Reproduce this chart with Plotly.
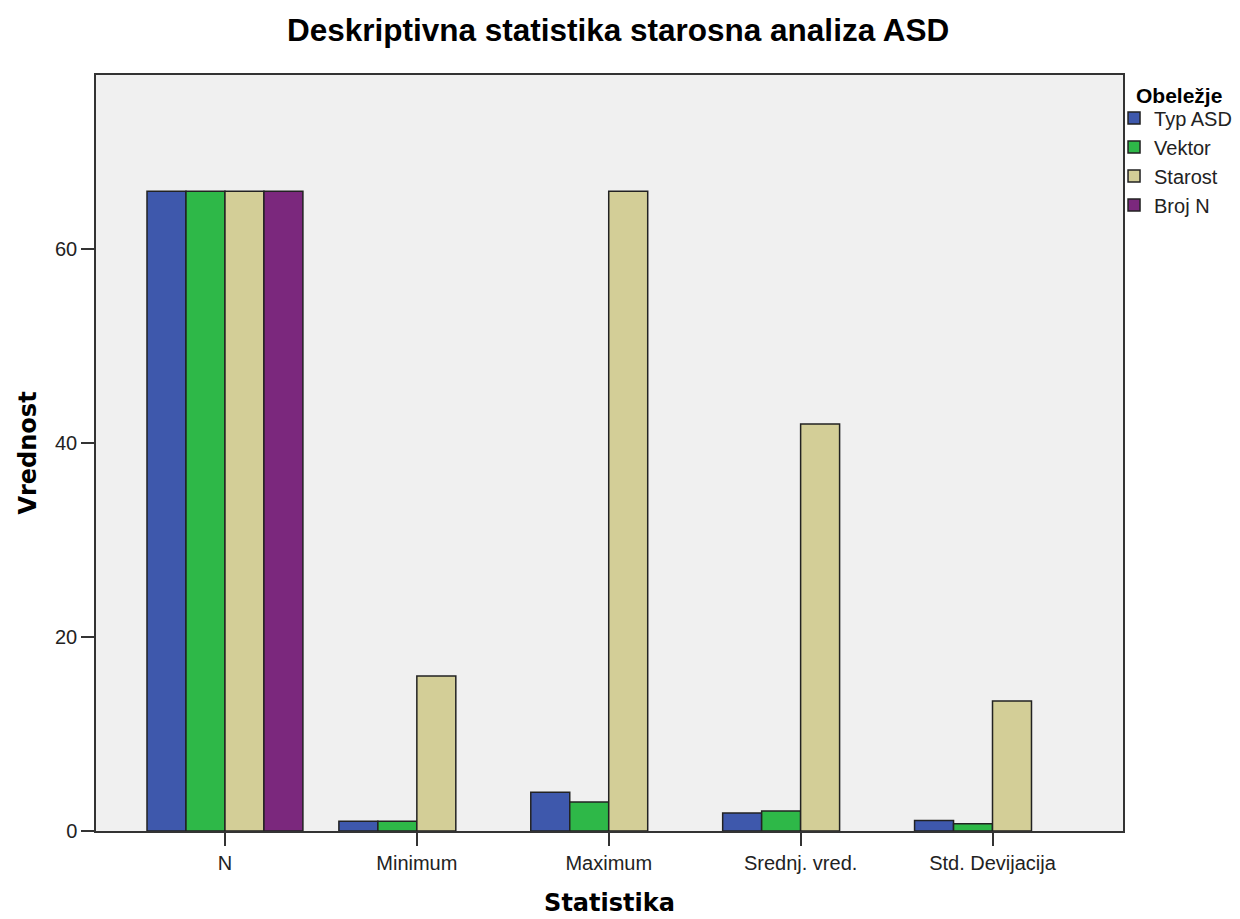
import plotly.graph_objects as go

categories = ["N", "Minimum", "Maximum", "Srednj. vred.", "Std. Devijacija"]
series_names = ["Typ ASD", "Vektor", "Starost", "Broj N"]
typ_asd = [66, 1, 4, 1.85, 1.08]
vektor = [66, 1, 3, 2.07, 0.75]
starost = [66, 16, 66, 42, 13.4]
broj_n = [66, None, None, None, None]
colors = ["#3E58AC", "#2EB848", "#D3CE97", "#7B287D"]

fig = go.Figure()
for name, vals, col in zip(series_names, [typ_asd, vektor, starost, broj_n], colors):
    fig.add_trace(go.Bar(
        x=categories, y=vals, name=name,
        marker=dict(color=col, line=dict(color="#222222", width=1.5)),
    ))

font_main = "Liberation Sans, Arial, sans-serif"
font_bold_title = "DejaVu Sans, sans-serif"
fig.update_layout(
    width=1240, height=919,
    barmode="group", bargap=0.1875, bargroupgap=0,
    paper_bgcolor="white", plot_bgcolor="#F0F0F0",
    margin=dict(l=88, r=124, t=67, b=96),
    title=dict(text="<b>Deskriptivna statistika starosna analiza ASD</b>", x=0.492, xanchor="center",
               xref="container", y=0.976, yanchor="middle",
               font=dict(family=font_main, size=31.5, color="black")),
    font=dict(family=font_main, size=20, color="#222222"),
    legend=dict(
        x=0.9903, xanchor="left", y=0.969, yanchor="top",
        font=dict(family=font_main, size=20, color="#222222"),
        bgcolor="rgba(0,0,0,0)", tracegroupgap=0, itemwidth=30,
    ),
    showlegend=True,
    annotations=[dict(
        text="<b>Obeležje</b>", xref="paper", yref="paper", x=1.0105, y=1 - 20 / 756,
        xanchor="left", yanchor="middle", showarrow=False,
        font=dict(family=font_main, size=21, color="black"),
    )],
)
fig.update_xaxes(
    range=[-0.672, 4.68], showgrid=False, ticks="outside", ticklen=13, tickwidth=1.5,
    tickcolor="#333333", showline=True, linecolor="#333333", linewidth=1.5, mirror=True,
    tickfont=dict(size=20, color="#222222"), automargin=False,
    title=dict(text="<b>Statistika</b>", font=dict(family=font_bold_title, size=24, color="black"),
               standoff=21),
)
fig.update_yaxes(
    range=[0, 78], tickvals=[0, 20, 40, 60], showgrid=False, zeroline=False, ticks="outside",
    ticklen=13, tickwidth=1.5, tickcolor="#333333", showline=True, linecolor="#333333",
    linewidth=1.5, mirror=True, tickfont=dict(size=20, color="#222222"), automargin=False,
    title=dict(text="<b>Vrednost</b>", font=dict(family=font_bold_title, size=24, color="black"),
               standoff=12),
)
fig.write_html("out.html")
